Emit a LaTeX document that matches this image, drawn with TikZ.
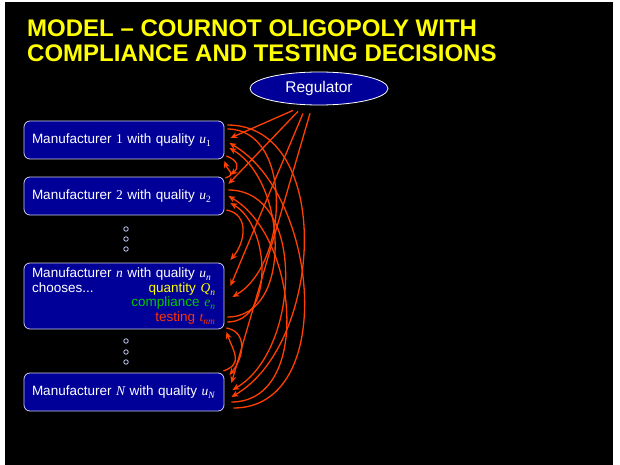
\documentclass[tikz,border=0pt]{standalone}
\usepackage{fontspec}
\setmainfont{Liberation Sans}
\newfontfamily\serifmath{Liberation Serif}
\usetikzlibrary{arrows.meta,shapes.geometric}

\definecolor{slideblue}{RGB}{0,0,153}
\definecolor{linkred}{RGB}{255,64,0}
\definecolor{titleyellow}{RGB}{255,255,0}
\definecolor{qyellow}{RGB}{255,255,0}
\definecolor{qgreen}{RGB}{0,200,0}
\definecolor{qred}{RGB}{255,51,0}
\definecolor{boxedge}{RGB}{205,205,230}
\definecolor{dotedge}{RGB}{200,210,255}

% italic serif variable with a small lowered index
\newcommand{\qv}[2]{{\serifmath\itshape #1}\raisebox{-0.4ex}{\serifmath\fontsize{9.5}{9.5}\selectfont #2}}

\tikzset{
  mbox/.style={draw=boxedge, line width=0.8pt, fill=slideblue, rounded corners=6pt,
    text width=186pt, inner xsep=7pt, inner ysep=2pt, align=left, minimum height=38pt,
    text=white, font=\fontsize{13.5}{14.5}\selectfont},
  vdot/.style={circle, draw=dotedge, line width=0.8pt, inner sep=0pt, minimum size=4.5pt},
  link/.style={draw=linkred, line width=1.3pt, -{Stealth[length=7pt,width=6pt]}},
  arcdown/.style={link, out=0, in=30},
  arcup/.style={link, out=0, in=-30}
}

\begin{document}
\begin{tikzpicture}[x=1pt,y=-1pt]
\useasboundingbox (0,0) rectangle (620,465);
\fill[white] (0,0) rectangle (620,465);
\fill[black] (5,2) rectangle (613,465);

% title
\node[anchor=base west, inner sep=0pt, text=titleyellow,
      font=\fontsize{24}{26}\selectfont\bfseries] (title1) at (27,36.4)
  {MODEL – COURNOT OLIGOPOLY WITH};
\node[anchor=base west, inner sep=0pt, text=titleyellow,
      font=\fontsize{24}{26}\selectfont\bfseries] (title2) at (27,62)
  {COMPLIANCE AND TESTING DECISIONS};

% regulator
\node[ellipse, draw=white, line width=0.8pt, fill=slideblue, minimum width=138pt,
      minimum height=33pt, inner sep=0pt, text=white,
      font=\fontsize{15.5}{16}\selectfont] (reg) at (319,88.5) {Regulator};

% manufacturers
\node[mbox] (m1) at (124,140) {\hspace{1pt}Manufacturer {\serifmath 1} with quality \qv{u}{1}};
\node[mbox] (m2) at (124,196) {\hspace{1pt}Manufacturer {\serifmath 2} with quality \qv{u}{2}};
\node[mbox, minimum height=66pt] (mn) at (124,296)
  {\hspace{1pt}Manufacturer {\serifmath\itshape n} with quality \qv{u}{\itshape n}\\
   \makebox[186pt][l]{\hspace{1pt}chooses...\hfill{\color{qyellow}quantity \qv{Q}{\itshape n}}\hspace{2pt}}\\
   \makebox[186pt][r]{\color{qgreen}compliance \qv{e}{\itshape n}\hspace{2pt}}\\
   \makebox[186pt][r]{\color{qred}testing \qv{t}{\itshape nm}\hspace{2pt}}};
\node[mbox] (mN) at (124,392) {\hspace{1pt}Manufacturer {\serifmath\itshape N} with quality \qv{u}{\itshape N}};

% ellipsis dots
\node[vdot] (d1) at (126,229) {};
\node[vdot] (d2) at (126,239) {};
\node[vdot] (d3) at (126,249) {};
\node[vdot] (d4) at (126,341) {};
\node[vdot] (d5) at (126,352) {};
\node[vdot] (d6) at (126,362) {};

% regulator to each manufacturer
\draw[link] ([shift={(-26,5)}]reg.south) -- ([shift={(6,-2)}]m1.east);
\draw[link] ([shift={(-21,6)}]reg.south) -- ([shift={(4,-12)}]m2.east);
\draw[link] ([shift={(-16,8)}]reg.south) -- ([shift={(6,-10)}]mn.east);
\draw[link] ([shift={(-9,8)}]reg.south) -- ([shift={(7,-9)}]mN.east);

% neighbouring manufacturers
\draw[link] ([shift={(2,16)}]m1.east) to[out=-20, in=40, looseness=1.6] ([shift={(6,-21)}]m2.east);
\draw[link] ([shift={(1,-18)}]m2.east) to[out=20, in=-70, looseness=1.8] ([shift={(0,21)}]m1.east);
\draw[link] ([shift={(2,14)}]m2.east) to[out=-10, in=50, looseness=1.2] ([shift={(6,-36)}]mn.east);
\draw[link] ([shift={(2,32)}]mn.east) to[out=-10, in=50, looseness=1.2] ([shift={(5,-17)}]mN.east);
\draw[link] ([shift={(-1,-21)}]mN.east) to[out=20, in=-70, looseness=1.4] ([shift={(2,36)}]mn.east);

% distant manufacturers, downwards
\draw[arcdown] ([shift={(3,-11)}]m1.east) to ([shift={(8,1)}]mn.east);
\draw[arcdown] ([shift={(3,-15)}]m1.east) to ([shift={(7,5)}]mN.east);
\draw[arcdown] ([shift={(4,-6)}]m2.east) to ([shift={(8,-2)}]mN.east);

% distant manufacturers, upwards
\draw[arcup] ([shift={(3,21)}]mn.east) to ([shift={(5,8)}]m1.east);
\draw[arcup] ([shift={(3,26)}]mn.east) to ([shift={(6,7)}]m2.east);
\draw[arcup] ([shift={(9,16)}]mN.east) to ([shift={(5,3)}]m1.east);
\draw[arcup] ([shift={(7,10)}]mN.east) to ([shift={(4,0)}]m2.east);
\end{tikzpicture}
\end{document}
